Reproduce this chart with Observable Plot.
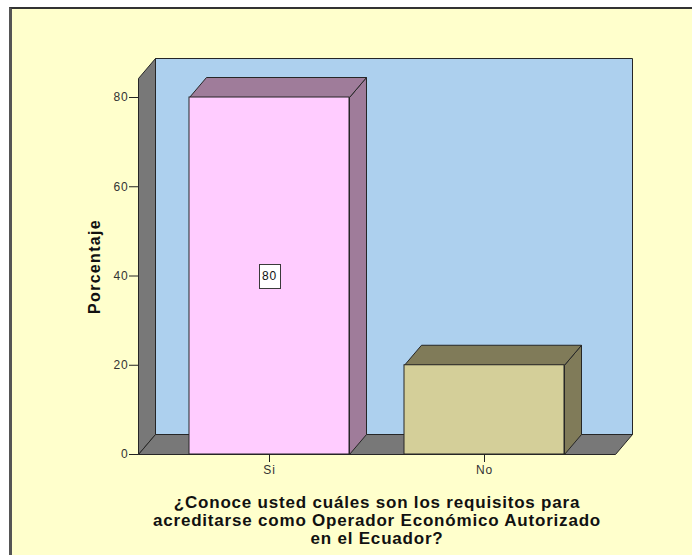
<!DOCTYPE html>
<html>
<head>
<meta charset="utf-8">
<script src="https://cdn.jsdelivr.net/npm/d3@7"></script>
<script src="https://cdn.jsdelivr.net/npm/@observablehq/plot@0.6"></script>
<style>
  html, body { margin: 0; padding: 0; background: #ffffff; }
  #wrap { position: relative; width: 692px; height: 555px; overflow: hidden; }
  #panel { position: absolute; left: 9px; top: 7px; width: 720px; height: 620px; background: #FFFFCC;
           border-left: 3px solid #555555; border-top: 2px solid #333333; box-sizing: border-box; }
  #chart { position: absolute; left: 0; top: 0; }
</style>
</head>
<body>
<div id="wrap"><div id="panel"></div><div id="chart"></div></div>
<script>
// ---- data ----
const categories = ["Si", "No"];
const percentages = [80, 20];
const yTicks = [0, 20, 40, 60, 80];
const yMax = 84.26;
const labelledCategories = ["Si"];
const yTitle = "Porcentaje";
const xTitle = "¿Conoce usted cuáles son los requisitos para\nacreditarse como Operador Económico Autorizado\nen el Ecuador?";
const frontColors = ["#FFCCFF", "#D4CF99"];
const sideColors = ["#9F7C9A", "#807B59"];

const data = categories.map((c, i) => ({cat: c, pct: percentages[i], front: frontColors[i], side: sideColors[i]}));

// ---- 3D styling ----
const DX = 17, DY = -20;
const EDGE = "#262626";
const WALL_BACK = "#ADD0EE";
const WALL_GRAY = "#787878";

function polygon(g, pts, fill) {
  g.append("polygon")
    .attr("points", pts.map(p => p.join(",")).join(" "))
    .attr("fill", fill)
    .attr("stroke", EDGE)
    .attr("stroke-width", 1)
    .attr("stroke-linejoin", "miter");
}
function bw(x) { return typeof x.bandwidth === "function" ? x.bandwidth() : 0; }

const walls = (index, scales, values, dims) => {
  const {y} = scales;
  const g = d3.create("svg:g");
  const x0 = dims.marginLeft + 0.5, x1 = dims.width - dims.marginRight + 0.5;
  const yb = y(0) + 0.5, yt = y(yMax) + 0.5;
  polygon(g, [[x0 + DX, yt + DY], [x1 + DX, yt + DY], [x1 + DX, yb + DY], [x0 + DX, yb + DY]], WALL_BACK);
  polygon(g, [[x0, yt], [x0 + DX, yt + DY], [x0 + DX, yb + DY], [x0, yb]], WALL_GRAY);
  polygon(g, [[x0, yb], [x0 + DX, yb + DY], [x1 + DX, yb + DY], [x1, yb]], WALL_GRAY);
  return g.node();
};

const barFaces = (index, scales) => {
  const {x, y} = scales;
  const g = d3.create("svg:g");
  const w = bw(x);
  for (const d of data) {
    const xl = x(d.cat) + 0.5, xr = xl + w, yv = y(d.pct) + 0.5, yb = y(0) + 0.5;
    polygon(g, [[xr, yv], [xr + DX, yv + DY], [xr + DX, yb + DY], [xr, yb]], d.side);
    polygon(g, [[xl, yv], [xl + DX, yv + DY], [xr + DX, yv + DY], [xr, yv]], d.side);
  }
  return g.node();
};

const labelBoxes = (index, scales) => {
  const {x, y} = scales;
  const g = d3.create("svg:g");
  for (const d of data.filter(d => labelledCategories.includes(d.cat))) {
    const cx = x(d.cat) + bw(x) / 2, cy = y(d.pct / 2);
    g.append("rect")
      .attr("x", Math.round(cx - 10.5) + 0.5).attr("y", Math.round(cy - 12) + 0.5)
      .attr("width", 21).attr("height", 24)
      .attr("fill", "#ffffff").attr("stroke", "#3a3a3a").attr("stroke-width", 1);
  }
  return g.node();
};

const axes = (typeof Plot.axisY === "function")
  ? [Plot.axisY(yTicks, {tickSize: 9, tickPadding: 1, label: null, stroke: "#222222", fill: "#333333", fontSize: 12}),
     Plot.axisX({tickSize: 8, tickPadding: 3, label: null, stroke: "#222222", fill: "#333333", fontSize: 12})]
  : [];

const chart = Plot.plot({
  width: 692,
  height: 555,
  marginLeft: 138,
  marginRight: 77,
  marginTop: 78,
  marginBottom: 101,
  style: {fontFamily: "'Liberation Sans', Arial, sans-serif", fontSize: "12px", color: "#333333", background: "transparent", overflow: "visible"},
  x: {domain: categories, paddingInner: 0.256, paddingOuter: 0.237, tickSize: 8, tickPadding: 3, label: null},
  y: {domain: [0, yMax], ticks: yTicks, tickSize: 9, tickPadding: 1, label: null},
  color: {domain: categories, range: frontColors},
  marks: [
    walls,
    barFaces,
    Plot.barY(data, {x: "cat", y: "pct", fill: "cat", stroke: EDGE, strokeWidth: 1}),
    labelBoxes,
    Plot.text(data.filter(d => labelledCategories.includes(d.cat)), {x: "cat", y: d => d.pct / 2, text: d => String(d.pct), fontSize: 12, fill: "#111111"}),
    Plot.text([yTitle], {text: d => d, frameAnchor: "left", textAnchor: "middle", rotate: -90, dx: -44, fontWeight: "bold", fontSize: 16, fill: "#111111"}),
    Plot.text([xTitle], {text: d => d, frameAnchor: "bottom", textAnchor: "middle", lineAnchor: "top", dy: 41, lineHeight: 1.06, fontWeight: "bold", fontSize: 17, fill: "#111111"}),
    ...axes
  ]
});

// wider SPSS-like text spacing
const svgSel = d3.select(chart);
svgSel.selectAll("text").each(function() {
  const t = this.textContent;
  let ls = "0.8px";
  if (t === yTitle) ls = "1.3px";
  d3.select(this).style("letter-spacing", ls);
});

document.getElementById("chart").appendChild(chart);
</script>
</body>
</html>
